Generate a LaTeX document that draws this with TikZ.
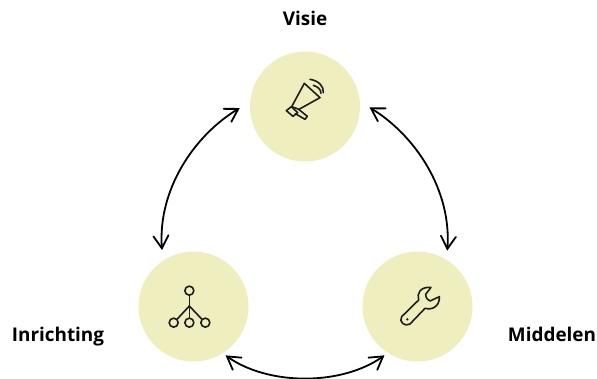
\documentclass[tikz,border=0pt]{standalone}
\usepackage{fontspec}
\setmainfont{Open Sans}
\usetikzlibrary{calc}
\definecolor{disc}{HTML}{EEEEBE}
\definecolor{ink}{HTML}{1E1E1E}
\pgfarrowsdeclare{openvee}{openvee}
  {\pgfarrowsleftextend{-13pt}\pgfarrowsrightextend{1.2pt}}
  {\pgfsetlinewidth{1.8pt}\pgfsetdash{}{0pt}\pgfsetroundcap\pgfsetmiterjoin
   \pgfpathmoveto{\pgfpoint{-12.5pt}{7.5pt}}
   \pgfpathlineto{\pgfpoint{0pt}{0pt}}
   \pgfpathlineto{\pgfpoint{-12.5pt}{-7.5pt}}
   \pgfusepathqstroke}
\tikzset{
  disc/.style={circle,fill=disc,minimum size=110pt,inner sep=0pt},
  lab/.style={font=\bfseries\fontsize{18.9pt}{22pt}\selectfont,text=black,inner sep=0pt,anchor=base},
  link/.style={draw=black,line width=1.8pt,openvee-openvee},
  icon/.style={draw=ink,line width=1.6pt,line join=round,line cap=round,fill=none}
}
\begin{document}
\begin{tikzpicture}[x=1pt,y=-1pt]
\useasboundingbox (0,0) rectangle (597,378);
\node[disc] (vis) at (305,106.5) {};
\node[disc] (inr) at (193.5,306.5) {};
\node[disc] (mid) at (417.5,306.5) {};
\node[lab] (tv) at (305,25.5) {Visie};
\node[lab] (ti) at (58,341.5) {Inrichting};
\node[lab] (tm) at (552,341.5) {Middelen};
% connectors
\draw[link] ($(vis)+(-65.7,1.8)$) .. controls ($(vis)+(-110.7,28.5)$) and ($(inr)+(-36.2,-116.5)$) .. ($(inr)+(-31.5,-57)$);
\draw[link] ($(vis)+(65,1.2)$) .. controls ($(vis)+(110,28.5)$) and ($(mid)+(34.5,-116.5)$) .. ($(mid)+(29.8,-56.5)$);
\draw[link] ($(inr)+(32.5,49.2)$) .. controls ($(inr)+(74.5,79.5)$) and ($(mid)+(-75.5,79.5)$) .. ($(mid)+(-33.5,49.2)$);
% megaphone
\begin{scope}[shift={(250,50)},x=0.3333pt,y=-0.3333pt]
\draw[icon] (163,100) -- (210,143) -- (147,178) -- (125,170) -- cycle;
\draw[icon] (109,182) -- (124,170) -- (143,188) -- (129,199) -- cycle;
\draw[icon] (146,178) -- (172,199) -- (165,208) -- (136,191);
\draw[icon] (180,88) .. controls (205,92) and (222,108) .. (220,128);
\draw[icon] (190,106) .. controls (203,110) and (213,118) .. (213,130);
\end{scope}
% tree
\begin{scope}[shift={(140,250)},x=0.3333pt,y=-0.3333pt]
\draw[icon] (148,122) circle[radius=4.5pt];
\draw[icon] (101,218) circle[radius=4.5pt];
\draw[icon] (148,218) circle[radius=4.5pt];
\draw[icon] (196,218) circle[radius=4.5pt];
\draw[icon] (148,136) -- (148,204);
\draw[icon] (148,168) -- (111,208);
\draw[icon] (148,168) -- (186,208);
\end{scope}
% wrench
\begin{scope}[shift={(360,250)},x=0.3333pt,y=-0.3333pt]
\draw[icon] (176,150) .. controls (170,130) and (180,110) .. (213,112)
  -- (197,133) .. controls (198,145) and (203,150) .. (210,153)
  -- (238,140) .. controls (240,165) and (220,182) .. (195,175)
  -- (150,222) .. controls (135,232) and (115,215) .. (125,200) -- cycle;
\fill[ink] (142,208) circle[radius=1.3pt];
\end{scope}
\end{tikzpicture}
\end{document}
